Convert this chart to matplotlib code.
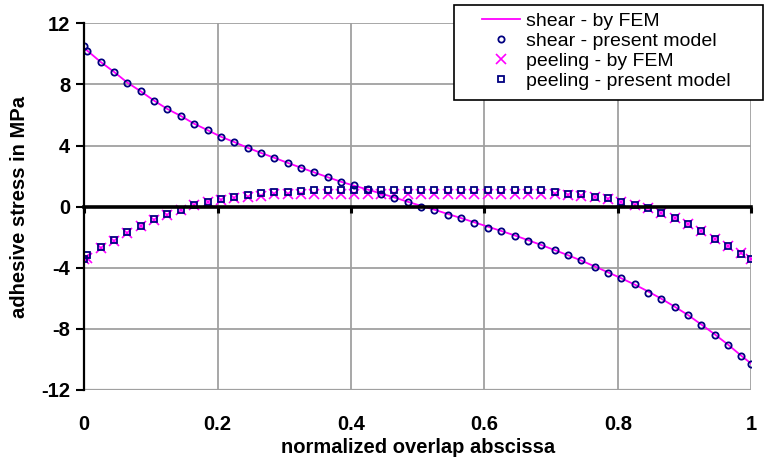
import matplotlib
matplotlib.use("Agg")
import matplotlib.pyplot as plt
from matplotlib.patches import Rectangle

plt.rcParams["font.family"] = ["Liberation Sans", "DejaVu Sans"]

# normalized overlap abscissa of the sampled points
x = [0.0, 0.005, 0.025, 0.045, 0.065, 0.085, 0.105, 0.125, 0.145, 0.165,
     0.185, 0.205, 0.225, 0.245, 0.265, 0.285, 0.305, 0.325, 0.345, 0.365,
     0.385, 0.405, 0.425, 0.445, 0.465, 0.485, 0.505, 0.525, 0.545, 0.565,
     0.585, 0.605, 0.625, 0.645, 0.665, 0.685, 0.705, 0.725, 0.745, 0.765,
     0.785, 0.805, 0.825, 0.845, 0.865, 0.885, 0.905, 0.925, 0.945, 0.965,
     0.985, 1.0]

# shear stress (MPa)
shear_fem = [10.40, 10.21, 9.47, 8.82, 8.12, 7.55, 6.94, 6.39, 5.94, 5.43,
             5.01, 4.58, 4.23, 3.86, 3.52, 3.20, 2.87, 2.55, 2.24, 1.93,
             1.63, 1.37, 1.12, 0.86, 0.60, 0.32, 0.05, -0.20, -0.48, -0.75,
             -1.03, -1.31, -1.59, -1.88, -2.19, -2.51, -2.84, -3.18, -3.53, -3.91,
             -4.30, -4.69, -5.10, -5.55, -6.03, -6.55, -7.10, -7.72, -8.36, -9.04,
             -9.77, -10.29]
shear_model = [10.54, 10.21, 9.47, 8.82, 8.10, 7.57, 6.92, 6.39, 5.96, 5.41,
               5.01, 4.58, 4.25, 3.84, 3.52, 3.20, 2.87, 2.54, 2.25, 1.92,
               1.62, 1.40, 1.13, 0.86, 0.59, 0.32, -0.02, -0.19, -0.52, -0.72,
               -1.07, -1.37, -1.57, -1.90, -2.22, -2.53, -2.85, -3.16, -3.49, -3.93,
               -4.32, -4.65, -5.08, -5.63, -6.04, -6.58, -7.11, -7.74, -8.38, -9.03,
               -9.77, -10.29]

# peeling stress (MPa)
peel_fem = [-3.40, -3.35, -2.70, -2.22, -1.72, -1.25, -0.85, -0.52, -0.22, 0.08,
            0.28, 0.45, 0.57, 0.65, 0.73, 0.80, 0.82, 0.83, 0.84, 0.84,
            0.84, 0.84, 0.84, 0.84, 0.84, 0.84, 0.84, 0.84, 0.84, 0.84,
            0.84, 0.84, 0.84, 0.84, 0.84, 0.84, 0.84, 0.78, 0.72, 0.60,
            0.48, 0.32, 0.12, -0.12, -0.42, -0.76, -1.15, -1.60, -2.10, -2.55,
            -3.05, -3.40]
peel_model = [-3.40, -3.18, -2.64, -2.20, -1.68, -1.24, -0.83, -0.50, -0.19, 0.13,
              0.33, 0.52, 0.65, 0.75, 0.87, 0.98, 0.98, 1.05, 1.07, 1.07,
              1.07, 1.07, 1.07, 1.07, 1.07, 1.07, 1.07, 1.07, 1.07, 1.07,
              1.07, 1.07, 1.07, 1.07, 1.07, 1.07, 0.98, 0.85, 0.83, 0.66,
              0.55, 0.31, 0.13, -0.09, -0.41, -0.74, -1.15, -1.59, -2.11, -2.55,
              -3.08, -3.40]

x_ticks = [0, 0.2, 0.4, 0.6, 0.8, 1]
x_labels = ["0", "0.2", "0.4", "0.6", "0.8", "1"]
y_ticks = [-12, -8, -4, 0, 4, 8, 12]

navy = "#000080"
magenta = "#FF00FF"
W, H = 764, 462

fig = plt.figure(figsize=(7.64, 4.62), dpi=100)
ax = fig.add_axes([0.110, 0.156, 0.8736, 0.7934])

ax.plot(x, shear_fem, color=magenta, lw=1.3, label="shear - by FEM", zorder=3)
ax.plot(x, shear_model, ls="none", marker="o", ms=4.5, mfc="none", mec=navy,
        mew=1.3, label="shear - present model", zorder=4)
ax.plot(x, peel_fem, ls="none", marker="x", ms=6.5, color=magenta, mew=1.2,
        label="peeling - by FEM", zorder=3)
ax.plot(x, peel_model, ls="none", marker="s", ms=4.5, mfc="none", mec=navy,
        mew=1.3, label="peeling - present model", zorder=4)

ax.set_xlim(0, 1)
ax.set_ylim(-12, 12)
ax.set_yticks(y_ticks)
ax.set_yticklabels([str(v) for v in y_ticks], fontsize=14.5, fontweight="bold")
ax.set_xticks(x_ticks)
ax.grid(True, color="#A0A0A0", lw=1.3, zorder=0)

for side in ["top", "right"]:
    ax.spines[side].set_visible(False)
ax.spines["left"].set_color("black")
ax.spines["left"].set_linewidth(1.6)
ax.spines["left"].set_zorder(5)
# x axis crosses at zero, labels stay at the bottom
ax.spines["bottom"].set_position(("data", 0))
ax.spines["bottom"].set_linewidth(2.6)
ax.spines["bottom"].set_zorder(5)
ax.tick_params(axis="x", direction="out", length=4, width=2.2, labelbottom=False)
ax.tick_params(axis="y", direction="out", length=6, width=1.5, pad=4)
ax.axhline(-12, color="#A0A0A0", lw=1.6, zorder=1)

sec = ax.secondary_xaxis("bottom")
sec.set_xticks(x_ticks)
sec.set_xticklabels(x_labels, fontsize=14.5, fontweight="bold")
sec.tick_params(length=0, pad=18)
sec.spines["bottom"].set_visible(False)
sec.set_xlabel("normalized overlap abscissa", fontsize=14.5, fontweight="bold", labelpad=3)

ax.set_ylabel("adhesive stress in MPa", fontsize=14.5, fontweight="bold", labelpad=9)

# legend box drawn separately so its size matches the original
fig.patches.append(Rectangle((454 / W, 1 - 100 / H), 309 / W, 95 / H,
                             transform=fig.transFigure, facecolor="white",
                             edgecolor="black", lw=1.2, zorder=10))
leg = fig.legend(loc="upper left", bbox_to_anchor=(482 / W, 1 - 12 / H),
                 fontsize=14, frameon=False, borderaxespad=0, borderpad=0,
                 handlelength=1.95, labelspacing=0.13, handletextpad=0.3)
leg.set_zorder(11)

fig.savefig("out.png", dpi=100)
